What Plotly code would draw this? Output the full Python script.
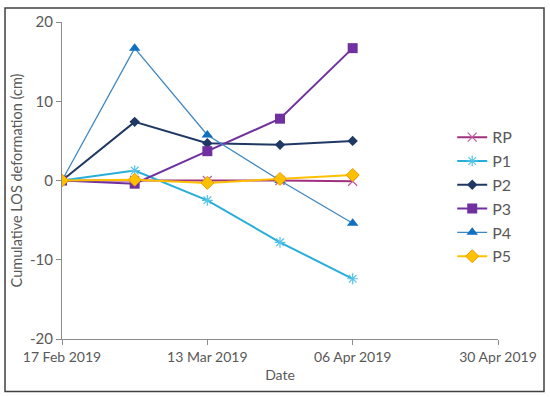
import plotly.graph_objects as go

dates = ["2019-02-17", "2019-03-01", "2019-03-13", "2019-03-25", "2019-04-06"]
series_names = ["RP", "P1", "P2", "P3", "P4", "P5"]
RP = [0, 0, 0, 0, -0.1]
P1 = [0, 1.25, -2.5, -7.8, -12.4]
P2 = [0, 7.4, 4.7, 4.5, 5.0]
P3 = [0, -0.4, 3.7, 7.8, 16.7]
P4 = [0, 16.7, 5.75, 0, -5.4]
P5 = [0, 0.1, -0.3, 0.2, 0.7]
tick_dates = ["2019-02-17", "2019-03-13", "2019-04-06", "2019-04-30"]
tick_labels = ["17 Feb 2019", "13 Mar 2019", "06 Apr 2019", "30 Apr 2019"]
y_ticks = [-20, -10, 0, 10, 20]
y_labels = ["-20", "-10", "0", "10", "20"]

values = [RP, P1, P2, P3, P4, P5]
styles = [
    dict(line=dict(color="#A0317E", width=2), marker=dict(symbol="x-thin-open", size=9, color="#C05BA0", line=dict(color="#C05BA0", width=1.2))),
    dict(line=dict(color="#27AEDB", width=2), marker=dict(symbol="asterisk-open", size=9, color="#55C3E8", line=dict(color="#55C3E8", width=1.2))),
    dict(line=dict(color="#1F3864", width=2), marker=dict(symbol="diamond", size=8, color="#1F3864")),
    dict(line=dict(color="#7030A0", width=2), marker=dict(symbol="square", size=10, color="#7030A0")),
    dict(line=dict(color="#3F87C2", width=1.3), marker=dict(symbol="triangle-up", size=10, color="#0F6FC0")),
    dict(line=dict(color="#FFC000", width=2), marker=dict(symbol="diamond", size=10, color="#FFC000", line=dict(color="#E8A000", width=1))),
]

fig = go.Figure()
for name, vals, st in zip(series_names, values, styles):
    fig.add_trace(go.Scatter(x=dates, y=vals, name=name, mode="lines+markers", **st))

font_color = "#595959"
fig.update_layout(
    width=550, height=397,
    margin=dict(l=62, r=52, t=20, b=58),
    paper_bgcolor="white", plot_bgcolor="white",
    font=dict(family="Lato, Open Sans, sans-serif", size=13, color=font_color),
    showlegend=True,
    legend=dict(x=0.895, y=0.69, xanchor="left", yanchor="top", font=dict(size=16, color=font_color),
                bgcolor="rgba(0,0,0,0)", itemwidth=30, tracegroupgap=0),
    xaxis=dict(type="date", range=["2019-02-17", "2019-04-30"], tickvals=tick_dates, ticktext=tick_labels,
               showgrid=False, zeroline=False, showline=True, linecolor="#8C8C8C", linewidth=1,
               ticks="outside", ticklen=5, tickcolor="#8C8C8C", tickfont=dict(size=14, color=font_color),
               title=dict(text="Date", font=dict(size=14, color=font_color), standoff=6)),
    yaxis=dict(range=[-20, 20], tickvals=y_ticks, ticktext=y_labels, showgrid=False, zeroline=False, showline=True,
               linecolor="#8C8C8C", linewidth=1, ticks="outside", ticklen=5, tickcolor="#8C8C8C",
               tickfont=dict(size=15, color=font_color),
               title=dict(text="Cumulative LOS deformation (cm)", font=dict(size=14.5, color=font_color), standoff=3)),
    shapes=[dict(type="rect", xref="paper", yref="paper", x0=-0.1307, x1=1.1055, y0=-0.166, y1=1.0439,
                 line=dict(color="#404040", width=1.5), fillcolor="rgba(0,0,0,0)", layer="below")],
)

fig.write_html("out.html", config={"displayModeBar": False},
               post_script="document.body.style.margin='0';document.body.style.padding='0';")
